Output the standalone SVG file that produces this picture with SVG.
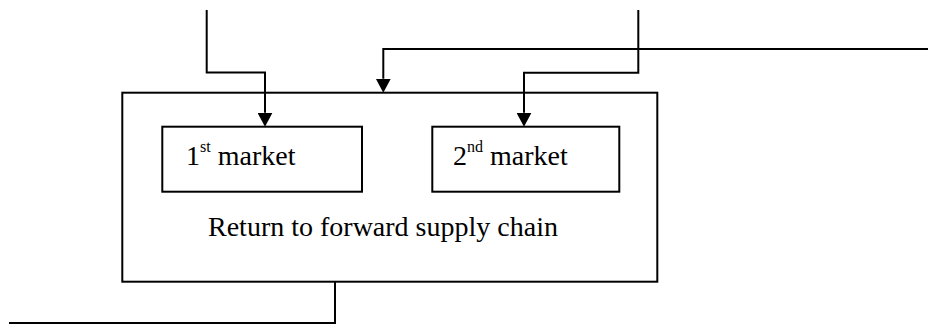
<svg xmlns="http://www.w3.org/2000/svg" width="928" height="327" viewBox="0 0 928 327">
<style>
.box{fill:#fff;stroke:#000;stroke-width:2}
.wire{fill:none;stroke:#000;stroke-width:2}
.lbl{font-family:"Liberation Serif","Times New Roman",serif;font-size:28px;fill:#000}
.sup{font-size:16px}
</style>
<defs>
<marker id="arr" viewBox="0 0 14 15" markerWidth="14" markerHeight="15" refX="0" refY="7.5" orient="auto" markerUnits="userSpaceOnUse">
<path d="M0,0 L14,7.5 L0,15 z" fill="#000"/>
</marker>
</defs>
<g id="outer">
<rect class="box" x="122.3" y="92.7" width="535" height="189"/>
<text class="lbl" x="208" y="236">Return to forward supply chain</text>
</g>
<g id="market1">
<rect class="box" x="162.3" y="126.7" width="199.7" height="65"/>
<text class="lbl" x="186" y="165">1<tspan class="sup" dy="-13">st</tspan><tspan dy="13"> market</tspan></text>
</g>
<g id="market2">
<rect class="box" x="432.3" y="126.7" width="187" height="65"/>
<text class="lbl" x="453" y="165">2<tspan class="sup" dy="-13">nd</tspan><tspan dy="13"> market</tspan></text>
</g>
<g id="connectors">
<path class="wire" d="M206.7,10 V72.5 H265 V112.7" marker-end="url(#arr)"/>
<path class="wire" d="M928,49 H383.3 V78.7" marker-end="url(#arr)"/>
<path class="wire" d="M638.3,10 V72.7 H524 V112.7" marker-end="url(#arr)"/>
<path class="wire" d="M335,281.7 V323 H9"/>
</g>
</svg>
